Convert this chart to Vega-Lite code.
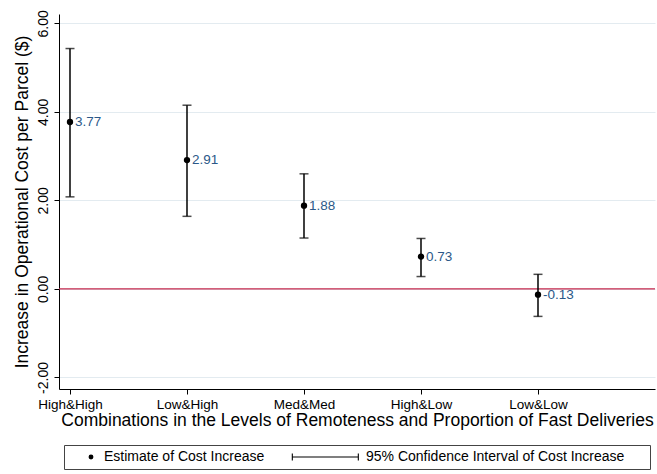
{
  "$schema": "https://vega.github.io/schema/vega-lite/v6.json",
  "width": 596,
  "height": 375,
  "autosize": {"type": "none"},
  "padding": {"left": 59, "top": 14, "right": 2, "bottom": 85},
  "background": "white",
  "config": {
    "view": {"stroke": null},
    "font": "Liberation Sans",
    "axis": {"labelFont": "Liberation Sans", "titleFont": "Liberation Sans", "titleFontWeight": "normal", "labelColor": "black", "titleColor": "black", "domainColor": "black", "tickColor": "black"}
  },
  "data": {
    "values": [
      {"idx": 1, "combo": "High&High", "est": 3.77, "label": "3.77", "lo": 2.08, "hi": 5.43},
      {"idx": 2, "combo": "Low&High", "est": 2.91, "label": "2.91", "lo": 1.64, "hi": 4.15},
      {"idx": 3, "combo": "Med&Med", "est": 1.88, "label": "1.88", "lo": 1.15, "hi": 2.60},
      {"idx": 4, "combo": "High&Low", "est": 0.73, "label": "0.73", "lo": 0.28, "hi": 1.14},
      {"idx": 5, "combo": "Low&Low", "est": -0.13, "label": "-0.13", "lo": -0.62, "hi": 0.33}
    ]
  },
  "encoding": {
    "x": {
      "field": "idx",
      "type": "quantitative",
      "scale": {"domain": [0.906, 6.0], "nice": false, "zero": false},
      "axis": {
        "title": "Combinations in the Levels of Remoteness and Proportion of Fast Deliveries",
        "titleFontSize": 17.5,
        "titlePadding": 1,
        "values": [1, 2, 3, 4, 5],
        "labelExpr": "['','High&High','Low&High','Med&Med','High&Low','Low&Low'][datum.value]",
        "labelFontSize": 13.5,
        "labelPadding": 3,
        "tickSize": 5,
        "grid": false
      }
    }
  },
  "layer": [
    {
      "data": {"values": [{"z": 0}]},
      "mark": {"type": "rule", "color": "#c4294c", "strokeWidth": 1.3},
      "encoding": {"x": null, "y": {"field": "z", "type": "quantitative"}}
    },
    {
      "mark": {"type": "rule", "color": "black", "strokeWidth": 1.5},
      "encoding": {
        "y": {
          "field": "lo",
          "type": "quantitative",
          "scale": {"domain": [-2.26, 6.21], "nice": false, "zero": false},
          "axis": {
            "title": "Increase in Operational Cost per Parcel ($)",
            "titleFontSize": 17.5,
            "titlePadding": 5,
            "values": [-2, 0, 2, 4, 6],
            "labelExpr": "datum.value < 0 ? '-' + format(-datum.value, '.2f') : format(datum.value, '.2f')",
            "labelAngle": -90,
            "labelAlign": "center",
            "labelBaseline": "bottom",
            "labelFontSize": 14,
            "labelPadding": 4,
            "tickSize": 5,
            "grid": true,
            "gridColor": "#e3ebf0",
            "gridWidth": 1
          }
        },
        "y2": {"field": "hi"}
      }
    },
    {
      "mark": {"type": "tick", "orient": "horizontal", "color": "black", "size": 9, "thickness": 1.5},
      "encoding": {"y": {"field": "lo", "type": "quantitative"}}
    },
    {
      "mark": {"type": "tick", "orient": "horizontal", "color": "black", "size": 9, "thickness": 1.5},
      "encoding": {"y": {"field": "hi", "type": "quantitative"}}
    },
    {
      "mark": {"type": "point", "filled": true, "color": "black", "opacity": 1, "size": 40},
      "encoding": {
        "y": {"field": "est", "type": "quantitative"},
        "shape": {
          "datum": "Estimate of Cost Increase",
          "scale": {
            "domain": ["Estimate of Cost Increase", "95% Confidence Interval of Cost Increase"],
            "range": ["circle", "M-25,-0.22L2.4,-0.22L2.4,0.22L-25,0.22Z M-25,-1.4L-24.55,-1.4L-24.55,1.4L-25,1.4Z M1.95,-1.4L2.4,-1.4L2.4,1.4L1.95,1.4Z"]
          },
          "legend": {
            "title": null,
            "orient": "none",
            "legendX": 5,
            "legendY": 431,
            "direction": "horizontal",
            "strokeColor": "#444",
            "padding": 5,
            "symbolOffset": 15,
            "symbolSize": 24,
            "symbolFillColor": "black",
            "labelFontSize": 14,
            "labelFont": "Liberation Sans",
            "labelColor": "black",
            "labelOffset": 6,
            "labelLimit": 0,
            "labelExpr": "indexof(datum.label, '95%') == 0 ? datum.label + '\u2800\u2800' : datum.label",
            "columnPadding": 23,
            "encode": {
              "symbols": {"update": {"fill": {"value": "black"}, "fillOpacity": {"value": 1}, "opacity": {"value": 1}}}
            }
          }
        }
      }
    },
    {
      "mark": {"type": "text", "align": "left", "baseline": "middle", "dx": 5, "fontSize": 13.5, "color": "#2b5888"},
      "encoding": {
        "y": {"field": "est", "type": "quantitative"},
        "text": {"field": "label", "type": "nominal"}
      }
    }
  ]
}
